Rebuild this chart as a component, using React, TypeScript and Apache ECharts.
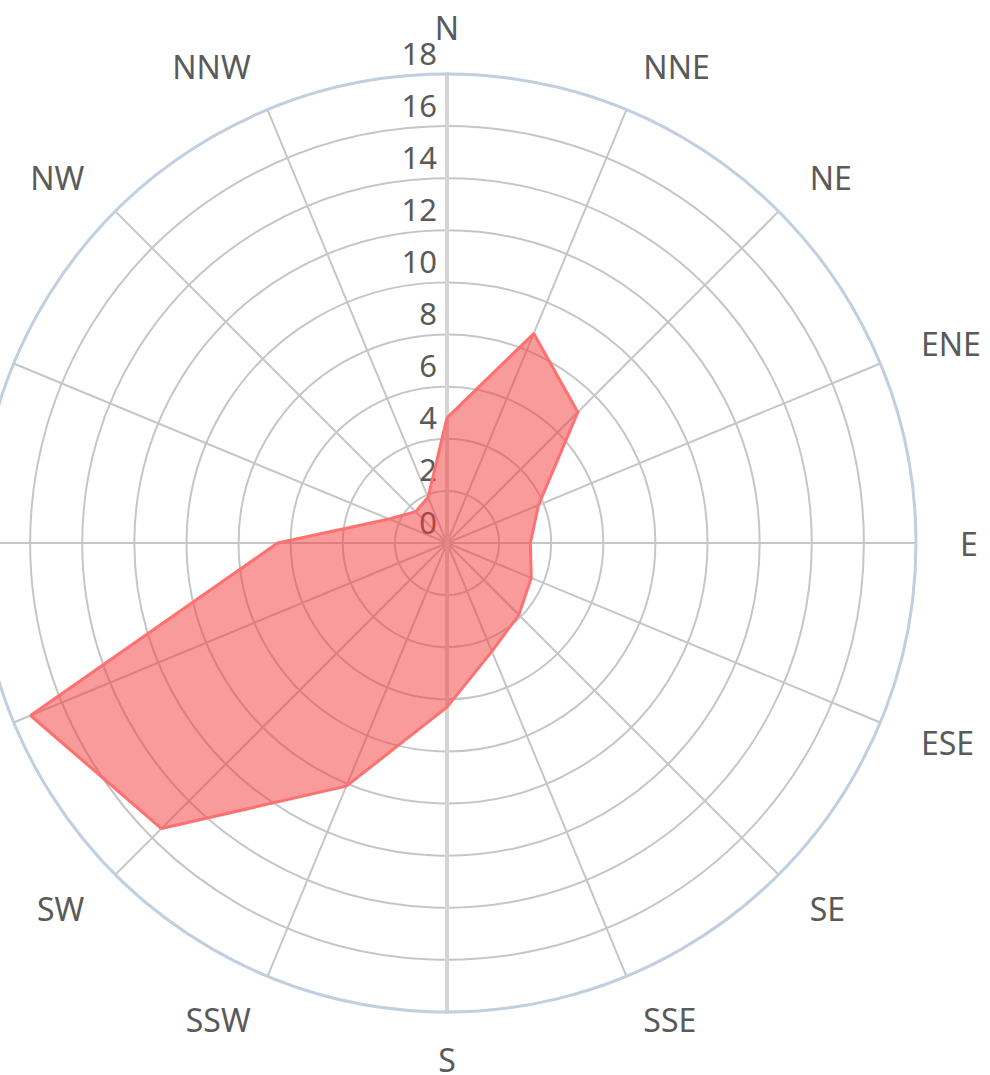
import React, { useEffect, useRef } from "react";
import * as echarts from "echarts";

const directions = ["N", "NNE", "NE", "ENE", "E", "ESE", "SE", "SSE", "S", "SSW", "SW", "WSW", "W", "WNW", "NW", "NNW"];
const frequency = [4.8, 8.7, 7.1, 3.8, 3.2, 3.5, 3.9, 4.5, 6.3, 10.1, 15.5, 17.3, 6.5, 2.4, 1.7, 1.9];
const radiusMin = 0;
const radiusMax = 18;
const radiusStep = 2;

const FONT = "Noto Sans";
const LABEL_COLOR = "#5a5a5a";
const GRID_COLOR = "#c6c6c6";

export default function App() {
  const ref = useRef<HTMLDivElement>(null);

  useEffect(() => {
    if (!ref.current) return;
    const chart = echarts.init(ref.current, undefined, { renderer: "svg" });
    const step = 360 / directions.length;
    const points = directions.map((_, i) => [frequency[i], i * step]);
    points.push([frequency[0], 360]);

    chart.setOption({
      animation: false,
      polar: [
        { center: [447, 543], radius: 469 },
        { center: [447, 543], radius: 469 },
      ],
      angleAxis: [
        {
          polarIndex: 0,
          type: "value",
          min: 0,
          max: 360,
          interval: step,
          startAngle: 90,
          clockwise: true,
          axisLine: { show: true, lineStyle: { color: "#C0D0E0", width: 3 } },
          axisTick: { show: false },
          splitLine: { show: true, lineStyle: { color: GRID_COLOR, width: 2 } },
          axisLabel: {
            show: true,
            margin: 44,
            color: LABEL_COLOR,
            fontFamily: FONT,
            fontSize: 32,
            lineHeight: 6,
            formatter: (v: number) => directions[Math.round(v / step) % directions.length],
          },
        },
        {
          polarIndex: 1,
          type: "value",
          min: 0,
          max: 360,
          startAngle: 270,
          axisLine: { show: false },
          axisTick: { show: false },
          splitLine: { show: false },
          axisLabel: { show: false },
        },
      ],
      radiusAxis: [
        {
          polarIndex: 0,
          type: "value",
          min: radiusMin,
          max: radiusMax,
          interval: radiusStep,
          axisLine: { show: true, lineStyle: { color: "#d4d4d4", width: 4 } },
          axisTick: { show: false },
          splitLine: { show: true, lineStyle: { color: GRID_COLOR, width: 2 } },
          axisLabel: {
            show: true,
            margin: 10,
            color: LABEL_COLOR,
            fontFamily: FONT,
            fontSize: 31,
            verticalAlign: "bottom",
            padding: [0, 0, 6, 0],
          },
        },
        {
          polarIndex: 1,
          type: "value",
          min: radiusMin,
          max: radiusMax,
          axisLine: { show: true, lineStyle: { color: "#d4d4d4", width: 4 } },
          axisTick: { show: false },
          splitLine: { show: false },
          axisLabel: { show: false },
        },
      ],
      series: [
        {
          type: "line",
          coordinateSystem: "polar",
          polarIndex: 0,
          data: points,
          symbol: "none",
          lineStyle: { color: "#ff7070", width: 3 },
          areaStyle: { color: "rgb(245,55,55)", opacity: 0.5 },
          z: 3,
        },
      ],
    });
    return () => chart.dispose();
  }, []);

  return (
    <div
      ref={ref}
      style={{ position: "absolute", left: 0, top: 0, width: 990, height: 1075 }}
    />
  );
}
